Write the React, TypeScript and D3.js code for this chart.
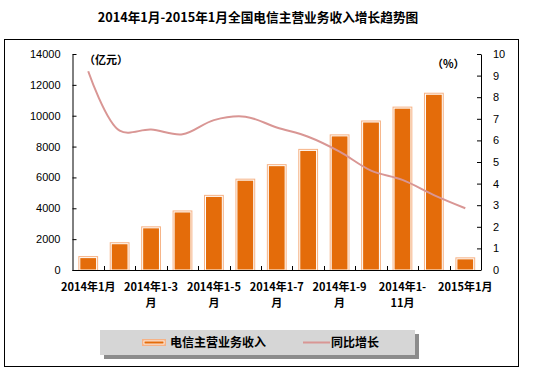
import { useRef, useEffect } from 'react';
import * as d3 from 'd3';

const categories = [
  '2014年1月', '2014年1-2月', '2014年1-3月', '2014年1-4月', '2014年1-5月', '2014年1-6月',
  '2014年1-7月', '2014年1-8月', '2014年1-9月', '2014年1-10月', '2014年1-11月', '2014年1-12月', '2015年1月',
];
// label lines shown under every other category
const tickLabels: Record<number, string[]> = {
  0: ['2014年1月'],
  2: ['2014年1-3', '月'],
  4: ['2014年1-5', '月'],
  6: ['2014年1-7', '月'],
  8: ['2014年1-9', '月'],
  10: ['2014年1-', '11月'],
  12: ['2015年1月'],
};
const revenue = [900, 1800, 2830, 3860, 4870, 5920, 6860, 7850, 8790, 9690, 10590, 11490, 820];
const growth = [9.2, 6.45, 6.5, 6.28, 6.94, 7.1, 6.6, 6.17, 5.48, 4.6, 4.17, 3.47, 2.86];
const leftTicks = [0, 2000, 4000, 6000, 8000, 10000, 12000, 14000];
const rightTicks = [0, 1, 2, 3, 4, 5, 6, 7, 8, 9, 10];

const W = 537;
const H = 368;
const PLOT = { left: 72.5, right: 481, top: 54, bottom: 270 };
const BAR_FILL = '#e46c0a';
const BAR_EDGE = '#f6b285';
const LINE_COLOR = '#d99694';
const FONT = '"Liberation Sans", Arial, sans-serif';
const CJK = '"Noto Sans CJK SC", sans-serif';

export default function App() {
  const svgRef = useRef<SVGSVGElement>(null);

  useEffect(() => {
    if (!svgRef.current) return;
    const svg = d3.select(svgRef.current);
    svg.selectAll('*').remove();

    const x = d3.scaleBand<string>().domain(categories).range([PLOT.left, PLOT.right]).padding(0);
    const yL = d3.scaleLinear().domain([0, 14000]).range([PLOT.bottom, PLOT.top]);
    const yR = d3.scaleLinear().domain([0, 10]).range([PLOT.bottom, PLOT.top]);

    // outer frame
    svg.append('rect')
      .attr('x', 4.5).attr('y', 39.5).attr('width', 514).attr('height', 327)
      .attr('fill', 'white').attr('stroke', '#000').attr('stroke-width', 1);

    // title
    svg.append('text')
      .attr('x', 258).attr('y', 22)
      .attr('text-anchor', 'middle')
      .attr('font-family', CJK).attr('font-weight', 700).attr('font-size', 12.7)
      .attr('fill', '#000')
      .text('2014年1月-2015年1月全国电信主营业务收入增长趋势图');

    // bars
    const bw = x.bandwidth() * 0.63;
    const bars = svg.append('g');
    categories.forEach((c, i) => {
      const cx = (x(c) ?? 0) + x.bandwidth() / 2;
      const top = yL(revenue[i]);
      bars.append('rect')
        .attr('x', cx - bw / 2).attr('y', top)
        .attr('width', bw).attr('height', PLOT.bottom - top)
        .attr('fill', BAR_EDGE);
      bars.append('rect')
        .attr('x', cx - bw / 2 + 1.5).attr('y', top + 1.5)
        .attr('width', bw - 3).attr('height', PLOT.bottom - top - 1.5)
        .attr('fill', BAR_FILL).attr('stroke', 'white').attr('stroke-width', 1);
    });

    // growth line
    const line = d3.line<number>()
      .x((_, i) => (x(categories[i]) ?? 0) + x.bandwidth() / 2)
      .y(d => yR(d))
      .curve(d3.curveCatmullRom.alpha(0.5));
    svg.append('path')
      .attr('d', line(growth))
      .attr('fill', 'none').attr('stroke', LINE_COLOR).attr('stroke-width', 2);

    // left axis
    const gl = svg.append('g').attr('transform', `translate(${PLOT.left},0)`)
      .call(d3.axisLeft(yL).tickValues(leftTicks).tickSizeInner(-4).tickSizeOuter(0).tickPadding(12).tickFormat(d => String(d)));
    gl.selectAll('text').attr('font-family', FONT).attr('font-size', 11).attr('fill', '#000');
    gl.selectAll('.domain, line').attr('stroke', '#000');

    // right axis
    const gr = svg.append('g').attr('transform', `translate(${PLOT.right},0)`)
      .call(d3.axisRight(yR).tickValues(rightTicks).tickSizeInner(-4).tickSizeOuter(0).tickPadding(12).tickFormat(d => String(d)));
    gr.selectAll('text').attr('font-family', FONT).attr('font-size', 11).attr('fill', '#000');
    gr.selectAll('.domain, line').attr('stroke', '#000');

    // bottom axis with ticks between categories
    svg.append('line')
      .attr('x1', PLOT.left).attr('x2', PLOT.right)
      .attr('y1', PLOT.bottom + 0.5).attr('y2', PLOT.bottom + 0.5)
      .attr('stroke', '#000');
    categories.slice(1).forEach(c => {
      const bx = Math.round(x(c) ?? 0) + 0.5;
      svg.append('line')
        .attr('x1', bx).attr('x2', bx)
        .attr('y1', PLOT.bottom).attr('y2', PLOT.bottom - 4)
        .attr('stroke', '#000');
    });
    Object.entries(tickLabels).forEach(([k, lines]) => {
      const i = Number(k);
      const cx = (x(categories[i]) ?? 0) + x.bandwidth() / 2;
      const t = svg.append('text')
        .attr('text-anchor', 'middle')
        .attr('font-family', CJK).attr('font-weight', 700).attr('font-size', 11)
        .attr('fill', '#000');
      lines.forEach((s, j) => {
        t.append('tspan').attr('x', cx).attr('y', 291 + j * 16).text(s);
      });
    });

    // unit labels
    svg.append('text')
      .attr('x', 84).attr('y', 64)
      .attr('font-family', CJK).attr('font-weight', 700).attr('font-size', 11)
      .text('（亿元）');
    svg.append('text')
      .attr('x', 432).attr('y', 68)
      .attr('font-family', CJK).attr('font-weight', 700).attr('font-size', 11)
      .text('（%）');

    // legend
    const lg = svg.append('g');
    lg.append('rect').attr('x', 104).attr('y', 334).attr('width', 315).attr('height', 25).attr('fill', '#8c8c8c');
    lg.append('rect').attr('x', 100).attr('y', 330).attr('width', 315).attr('height', 25).attr('fill', '#d6d6d6');
    lg.append('rect').attr('x', 142).attr('y', 339).attr('width', 24).attr('height', 7).attr('fill', BAR_EDGE);
    lg.append('rect').attr('x', 144).attr('y', 341).attr('width', 20).attr('height', 3).attr('fill', BAR_FILL)
      .attr('stroke', 'white').attr('stroke-width', 0.8);
    lg.append('text').attr('x', 170).attr('y', 347)
      .attr('font-family', CJK).attr('font-weight', 700).attr('font-size', 12).text('电信主营业务收入');
    lg.append('line').attr('x1', 303).attr('x2', 330).attr('y1', 342.5).attr('y2', 342.5)
      .attr('stroke', LINE_COLOR).attr('stroke-width', 2);
    lg.append('text').attr('x', 331).attr('y', 347)
      .attr('font-family', CJK).attr('font-weight', 700).attr('font-size', 12).text('同比增长');
  }, []);

  return (
    <div style={{ position: 'absolute', left: 0, top: 0 }}>
      <svg ref={svgRef} width={W} height={H} style={{ display: 'block' }} />
    </div>
  );
}
